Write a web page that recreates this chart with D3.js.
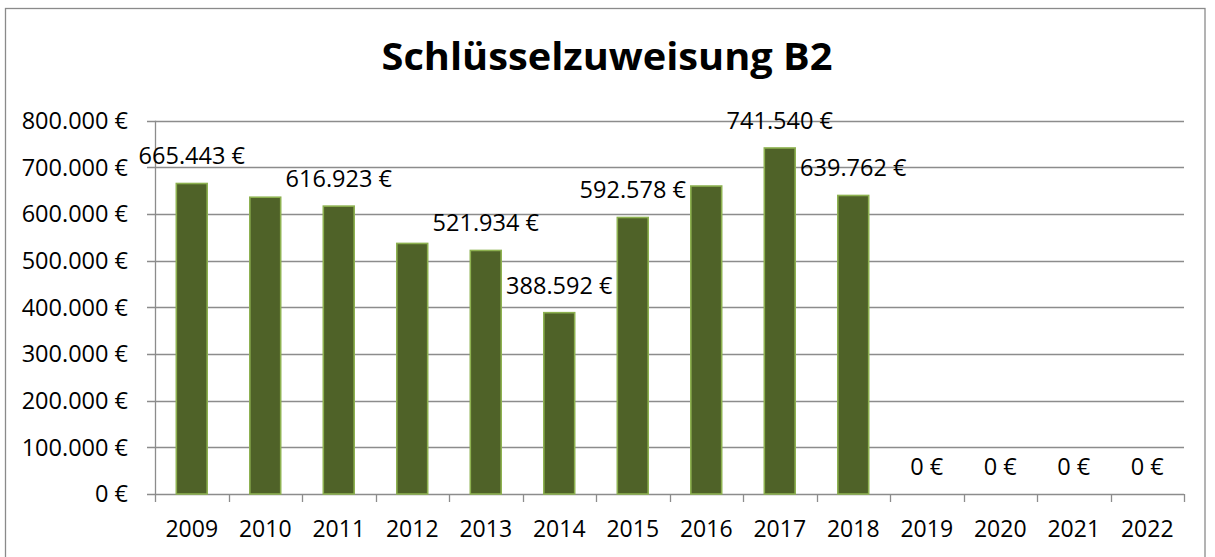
<!DOCTYPE html>
<html>
<head>
<meta charset="utf-8">
<script src="https://cdn.jsdelivr.net/npm/d3@7"></script>
<style>
  html, body { margin: 0; padding: 0; background: #fff; }
  svg { display: block; }
  text { font-family: "Open Sans", "Liberation Sans", sans-serif; fill: #000; }
</style>
</head>
<body>
<script>
const years = ["2009","2010","2011","2012","2013","2014","2015","2016","2017","2018","2019","2020","2021","2022"];
const values = [665443, 636000, 616923, 537000, 521934, 388592, 592578, 660000, 741540, 639762, 0, 0, 0, 0];
const labelShown = [true, false, true, false, true, true, true, false, true, true, true, true, true, true];
const yTicks = [0, 100000, 200000, 300000, 400000, 500000, 600000, 700000, 800000];
const title = "Schlüsselzuweisung B2";

const W = 1215, H = 557;
const svg = d3.select("body").append("svg").attr("width", W).attr("height", H);

const fmt = v => d3.format(",")(v).replace(/,/g, ".") + " €";

// outer border
svg.append("rect").attr("x", 5.5).attr("y", 8.5).attr("width", 1199.5).attr("height", 560)
  .attr("fill", "#fff").attr("stroke", "#8a8a8a").attr("stroke-width", 1.3);

const x = d3.scaleBand().domain(years).range([155, 1184]).paddingInner(0.58).paddingOuter(0.29);
const xOuter = d3.scaleBand().domain(years).range([155, 1184]).padding(0);
const y = d3.scaleLinear().domain([0, 800000]).range([494, 120.7]);

// gridlines
svg.append("g").selectAll("line").data(yTicks).join("line")
  .attr("x1", 147).attr("x2", 1184)
  .attr("y1", d => Math.round(y(d)) + 0.5).attr("y2", d => Math.round(y(d)) + 0.5)
  .attr("stroke", "#8c8c8c").attr("stroke-width", 1.3);

// y axis line
svg.append("line").attr("x1", 155.5).attr("x2", 155.5).attr("y1", 120.7).attr("y2", 502)
  .attr("stroke", "#8c8c8c").attr("stroke-width", 1.3);

// x ticks
const xTickPos = years.map(d => xOuter(d)).concat([1184]);
svg.append("g").selectAll("line").data(xTickPos.slice(1)).join("line")
  .attr("x1", d => Math.round(d) + 0.5).attr("x2", d => Math.round(d) + 0.5)
  .attr("y1", 494).attr("y2", 502)
  .attr("stroke", "#8c8c8c").attr("stroke-width", 1.3);

// y labels
svg.append("g").selectAll("text").data(yTicks).join("text")
  .attr("x", 128).attr("y", d => y(d)).attr("dy", "0.35em")
  .attr("text-anchor", "end").attr("font-size", 23.5)
  .text(d => fmt(d));

// x labels
svg.append("g").selectAll("text").data(years).join("text")
  .attr("x", d => xOuter(d) + xOuter.bandwidth() / 2).attr("y", 536.5)
  .attr("text-anchor", "middle").attr("font-size", 23)
  .text(d => d);

// bars
svg.append("g").selectAll("rect").data(years.map((d, i) => ({ year: d, v: values[i] })).filter(d => d.v > 0))
  .join("rect")
  .attr("x", d => x(d.year)).attr("width", x.bandwidth())
  .attr("y", d => y(d.v)).attr("height", d => y(0) - y(d.v))
  .attr("fill", "#4f6228").attr("stroke", "#8db150").attr("stroke-width", 1.6);

// data labels
svg.append("g").selectAll("text")
  .data(years.map((d, i) => ({ year: d, v: values[i], show: labelShown[i] })).filter(d => d.show))
  .join("text")
  .attr("x", d => xOuter(d.year) + xOuter.bandwidth() / 2)
  .attr("y", d => y(d.v) - 19)
  .attr("text-anchor", "middle").attr("font-size", 23.5)
  .text(d => fmt(d.v));

// title
svg.append("text").attr("x", 607).attr("y", 70).attr("text-anchor", "middle")
  .attr("font-size", 38).attr("font-weight", "bold")
  .attr("textLength", 451).attr("lengthAdjust", "spacingAndGlyphs")
  .text(title);
</script>
</body>
</html>
